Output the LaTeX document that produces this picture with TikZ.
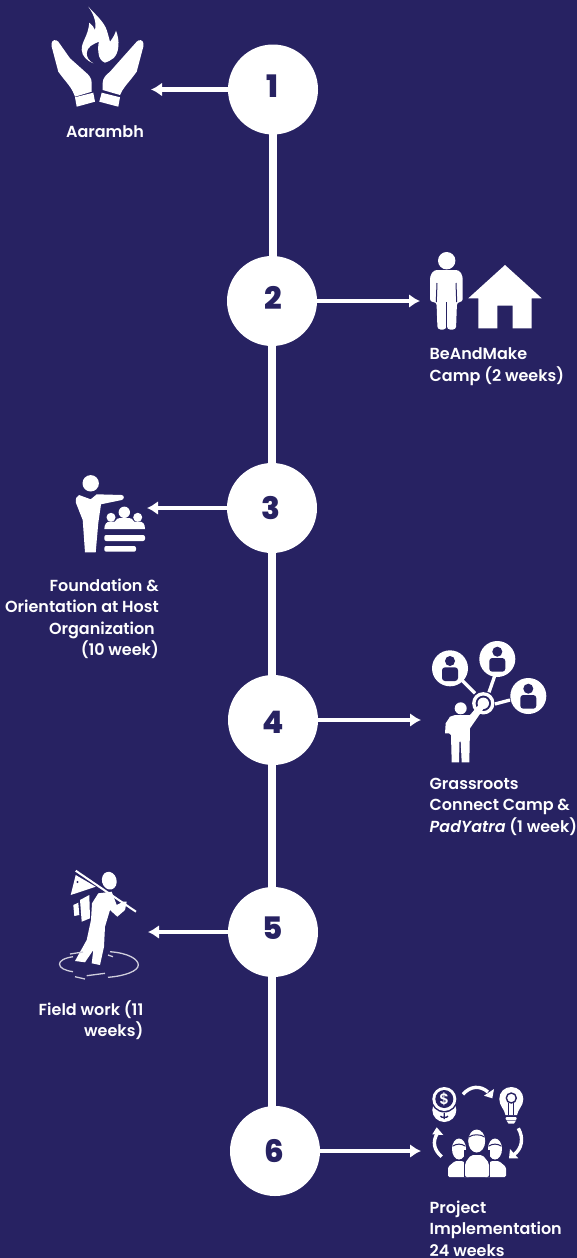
\documentclass[tikz,border=0pt]{standalone}
\usepackage{fontspec}
\setmainfont{Poppins}[UprightFont=* SemiBold,ItalicFont=* SemiBold Italic,BoldFont=* ExtraBold]
\definecolor{bgnavy}{HTML}{272262}
\usetikzlibrary{arrows.meta}
\tikzset{
 stepcircle/.style={circle,fill=white,minimum size=90pt,inner sep=0pt},
 digit/.style={text=bgnavy,inner sep=0pt,font=\fontsize{31}{31}\selectfont\bfseries},
 spine/.style={draw=white,line width=8pt},
 pointer/.style={draw=white,line width=4.5pt,-{Latex[length=11pt,width=14pt]}},
 caption/.style={text=white,font=\fontsize{16}{21.5}\selectfont,inner sep=0pt},
 icon/.style={fill=white,draw=none},
 hole/.style={fill=bgnavy,draw=none},
 gapline/.style={draw=bgnavy,line width=1pt},
 ripple/.style={draw=white!78!bgnavy,line width=1.3pt},
 curvedstroke/.style={draw=white,line width=3.4pt}
}
\begin{document}
\begin{tikzpicture}[x=1pt,y=-1pt]
\fill[bgnavy] (0,0) rectangle (577,1258);
\useasboundingbox (0,0) rectangle (577,1258);
\node[stepcircle] (c1) at (273,89.5) {};
\node[stepcircle] (c2) at (272,301) {};
\node[stepcircle] (c3) at (272,508) {};
\node[stepcircle] (c4) at (273,720) {};
\node[stepcircle] (c5) at (273,932) {};
\node[stepcircle] (c6) at (275,1151) {};
\node[digit] (n1) at (272,86) {1};
\node[digit] (n2) at (273,298) {2};
\node[digit] (n3) at (271,508) {3};
\node[digit] (n4) at (273,722) {4};
\node[digit] (n5) at (273,928) {5};
\node[digit] (n6) at (274,1151) {6};
\foreach \a/\b/\q in {c1/c2/273,c2/c3/272,c3/c4/272,c4/c5/272,c5/c6/272}
 \draw[spine] ([yshift=1pt]\q,0 |- \a.south) -- ([yshift=-1pt]\q,0 |- \b.north);
\coordinate (t1) at (151,89.5);\coordinate (t2) at (420,301);\coordinate (t3) at (147,508);
\coordinate (t4) at (421,720);\coordinate (t5) at (148,932);\coordinate (t6) at (421,1151);
\foreach \a/\b in {c1/t1,c2/t2,c3/t3,c4/t4,c5/t5,c6/t6} \draw[pointer] (\a)--(\b);
\node[caption,anchor=base] (l1) at (105,137) {Aarambh};
\node[caption,anchor=north west,align=left] (l2) at (429.5,347.5) {BeAndMake\\Camp (2 weeks)};
\node[caption,anchor=north east,align=right] (l3) at (159,578.5) {Foundation \&\\Orientation at Host\\Organization\kern4pt\\(10 week)};
\node[caption,anchor=north west,align=left] (l4) at (429.5,777.5) {Grassroots\\Connect Camp \&\\\textit{PadYatra} (1 week)};
\node[caption,anchor=north east,align=right] (l5) at (143.5,1000.5) {Field work (11\\weeks)};
\node[caption,anchor=north west,align=left] (l6) at (429.5,1200.5) {Project\\Implementation\\24 weeks};
% 1 flame and hands
\fill[icon] (88.3,6.7) .. controls (96,15) and (104,22) .. (106.7,30) .. controls (108,34) and (109,38) .. (110,41.7) .. controls (113,38) and (115,34) .. (116,30.7) .. controls (118,36) and (119,41) .. (118.3,46.7) .. controls (118,52) and (116,56) .. (113.3,58.3) .. controls (111,60) and (108,62) .. (105,62.7) .. controls (101,61) and (99,58) .. (98.5,53) .. controls (98,49) and (98,45) .. (99,41.7) .. controls (93,44) and (87,47) .. (86.7,53) .. controls (86.5,57) and (89,61) .. (93.3,63.3) .. controls (87,61) and (82,56) .. (81.7,50) .. controls (81.5,41) and (88,37) .. (89.3,22.7) .. controls (92,25) and (94,27) .. (95,30) .. controls (97,22) and (93,13) .. (88.3,6.7) -- cycle;
\fill[icon] (51.7,43) .. controls (52,40) and (56,39) .. (58.3,41.7) -- (70,58.3) -- (85,71.7) .. controls (89,75) and (91.7,78) .. (91.7,83) -- (91.7,91.7) -- (75,96.7) .. controls (72,88) and (67,83) .. (63.3,78.3) -- (58.3,71.7) -- (51.7,46.7) -- cycle;
\fill[icon] (75,97.3) -- (93.3,92.7) -- (95,101.7) -- (76.7,106.7) -- cycle;
\fill[icon] (143.3,43) .. controls (143,40) and (139,39) .. (136.7,41.7) -- (123.3,56.7) -- (110,71.7) .. controls (106,75) and (102.7,78) .. (102.7,83) -- (102.7,90) -- (120,95) .. controls (123,88) and (128,83) .. (131.7,78.3) -- (136.7,71.7) -- (143.3,46.7) -- cycle;
\fill[icon] (101.7,92.7) -- (120,97.3) -- (118.3,106.7) -- (99.3,101.7) -- cycle;
% 2 person and house
\fill[icon] (446.7,260.7) circle (8.7);
\fill[icon,rounded corners=3pt] (430,302) -- (430,276) -- (434,270) -- (459,270) -- (462.7,276) -- (462.7,302) -- (457,302) -- (456,329.5) -- (447,329.5) -- (446.7,304) -- (446.3,329.5) -- (437.5,329.5) -- (436.5,302) -- cycle;
\draw[gapline] (437,283) -- (436.3,302) (456,283) -- (456.7,302);
\draw[gapline] (446.7,302) -- (446.7,329);
\fill[icon] (505,265) -- (541.7,298.3) -- (531.7,298.3) -- (531.7,328.3) -- (512.7,328.3) -- (512.7,305.7) -- (497.3,305.7) -- (497.3,328.3) -- (478.3,328.3) -- (478.3,298.3) -- (468.3,298.3) -- cycle;
% 3 presenter
\fill[icon] (90.7,483.3) circle (8.2);
\fill[icon] (79,495) -- (90.7,499.3) -- (96.7,494.3) -- (121.7,495) .. controls (124.5,495.5) and (124.5,499) .. (121.7,500) -- (101,504.3) -- (98.3,523) -- (95.7,552.3) -- (85,552.3) -- (82.7,520) -- (76,503) .. controls (75.5,499) and (76,496) .. (79,495) -- cycle;
\fill[icon] (111,517.3) circle (4.5);\fill[icon] (124.3,512.3) circle (5.7);\fill[icon] (137.7,517.3) circle (4.5);
\fill[icon] (104.3,529) .. controls (104.3,524) and (107,521.5) .. (110,521.5) -- (115,521.5) .. controls (116,519) and (118,518) .. (120,518) -- (129,518) .. controls (131,518) and (133,519) .. (134,521.5) -- (139,521.5) .. controls (143,521.5) and (145,524) .. (145,529) -- cycle;
\fill[icon,rounded corners=2pt] (104.3,535) rectangle (145,541);
\fill[icon,rounded corners=2pt] (104.3,546) rectangle (136,551.7);
% 4 network
\foreach \q/\r in {450/668.3,497.3/659,528.3/696}{\fill[icon] (\q,\r) circle (18);}
\draw[white,line width=3.3pt] (461.7,680)--(475,693.3) (495,675)--(489,692.3) (510,700)--(495,704);
\draw[white,line width=3.3pt] (483.3,703.3) circle (9.5);
\fill[icon] (483.3,703.3) circle (5.7);
\foreach \q/\r in {450/668.3,497.3/659,528.3/696}{
 \fill[hole] (\q,\r-7.3) circle (5);
 \fill[hole,rounded corners=3pt] (\q-8,\r+12.7) -- (\q-8,\r-1) -- (\q+8,\r-1) -- (\q+8,\r+12.7) -- cycle;
}
\fill[icon] (460.7,708.3) circle (6);
\fill[icon] (455,715) -- (470,715) -- (480,703.3) -- (485,706.7) -- (470,728.3) -- (469.3,762.3) -- (461.7,762.3) -- (460.7,741.7) -- (459.5,741.7) -- (459,762.3) -- (451.7,762.3) -- (451,735) -- (449,733.3) -- (445,733.3) -- (445.7,723.3) -- (450,716.7) -- cycle;
% 5 walker
\draw[white,line width=2pt] (75.7,870.7)--(136,911.7);
\fill[icon] (75.7,875) -- (95.7,886.7) -- (70.7,895) -- cycle;
\fill[hole] (77.5,882) circle (1.2);
\fill[icon,rotate around={15:(109.3,880.7)}] (109.3,880.7) ellipse (7.3 and 9);
\fill[icon] (98.3,893.3) -- (111.7,891.7) -- (116.7,905) -- (123.3,901.7) -- (126.7,901.7) -- (125,910) -- (117.3,916.7) -- (110,910) -- (105,926.7) -- (104,946.7) -- (100,965) -- (91.7,963.3) -- (93.3,950) -- (85,962.3) -- (75,961) -- (86.7,940) -- (91,920) -- (92,903.3) -- cycle;
\fill[icon] (80,900) -- (89.3,895) -- (90,918.3) -- (81.7,921.7) -- cycle;
\fill[icon] (73.3,905) -- (78.3,902.7) -- (79.3,915) -- (74.3,916) -- cycle;
\draw[ripple] (73,956.7) .. controls (64,958) and (59.5,961) .. (59.5,964) .. controls (59.5,968) and (65,970.5) .. (73,971.7);
\draw[ripple] (70,954)--(83,952) (75,976.7)--(85,979) (86.7,975.7)--(105,973.3) (108,955)--(113,956.7);
\draw[ripple] (110,951.7) .. controls (128,953) and (138.3,959) .. (138.3,965) .. controls (138.3,971) and (125,976) .. (108,977.3);
% 6 project
\fill[icon] (444.3,1110) circle (12);
\fill[hole] (444.3,1099) circle (13.5);
\fill[icon] (444.3,1099) circle (12);
\fill[hole] (444.3,1099) circle (9);
\node[text=white,font=\fontsize{15}{15}\selectfont,inner sep=0pt] (dollar) at (444.3,1099) {\$};
\draw[bgnavy,line width=1.3pt] (444.3,1113)--(444.3,1119) (440.5,1116) .. controls (441,1118) and (447.5,1118) .. (448,1116);
\draw[curvedstroke] (463,1094.3) .. controls (470,1086) and (480,1085) .. (488,1092);
\fill[icon] (494,1089) -- (492.3,1098.3) -- (484,1095.7) -- cycle;
\fill[icon] (511.3,1087) .. controls (518,1087) and (523.3,1092) .. (523.3,1099) .. controls (523.3,1106) and (518,1109) .. (517,1115) -- (505.5,1115) .. controls (504.5,1109) and (499.3,1106) .. (499.3,1099) .. controls (499.3,1092) and (504.5,1087) .. (511.3,1087) -- cycle;
\draw[bgnavy,line width=1.4pt] (511.3,1098) circle (5);
\draw[bgnavy,line width=1.2pt] (508.8,1103) -- (508.8,1115) (513.8,1103) -- (513.8,1115);
\fill[icon,rounded corners=1pt] (505.7,1117) rectangle (516.7,1120);
\fill[icon] (506.5,1120.5) -- (516,1120.5) -- (514,1123.5) -- (508.5,1123.5) -- cycle;
\draw[curvedstroke] (441.7,1156.7) .. controls (434,1150) and (432,1142) .. (437.5,1133);
\fill[icon] (436.7,1127.3) -- (432.3,1134.3) -- (443.3,1135) -- cycle;
\draw[curvedstroke] (518.3,1128.3) .. controls (524,1138) and (522,1149) .. (513.5,1155);
\fill[icon] (509,1158.3) -- (510,1149) -- (518.3,1158.3) -- cycle;
\foreach \q in {459,495}{
 \fill[icon] (\q,1149) ellipse (7 and 10.5);
 \fill[icon,rounded corners=1.5pt] (\q-11,1177) -- (\q-11,1167) -- (\q-4,1161) -- (\q+4,1161) -- (\q+11,1167) -- (\q+11,1177) -- cycle;
 \draw[gapline] (\q-6,1146) .. controls (\q-3,1143.5) and (\q+3,1143.5) .. (\q+6,1146);
}
\fill[hole] (463.8,1150) rectangle (490.2,1177);
\fill[hole] (476.7,1141) ellipse (10 and 13);
\fill[icon] (476.7,1141) ellipse (8.5 and 11.5);
\fill[hole] (465.7,1153) rectangle (488,1155.5);
\fill[icon,rounded corners=2pt] (465,1177) -- (465,1163) -- (471,1155) -- (482.5,1155) -- (489,1163) -- (489,1177) -- cycle;
\draw[gapline] (469,1137) .. controls (472,1134) and (481,1134) .. (484.5,1137);
\end{tikzpicture}
\end{document}
